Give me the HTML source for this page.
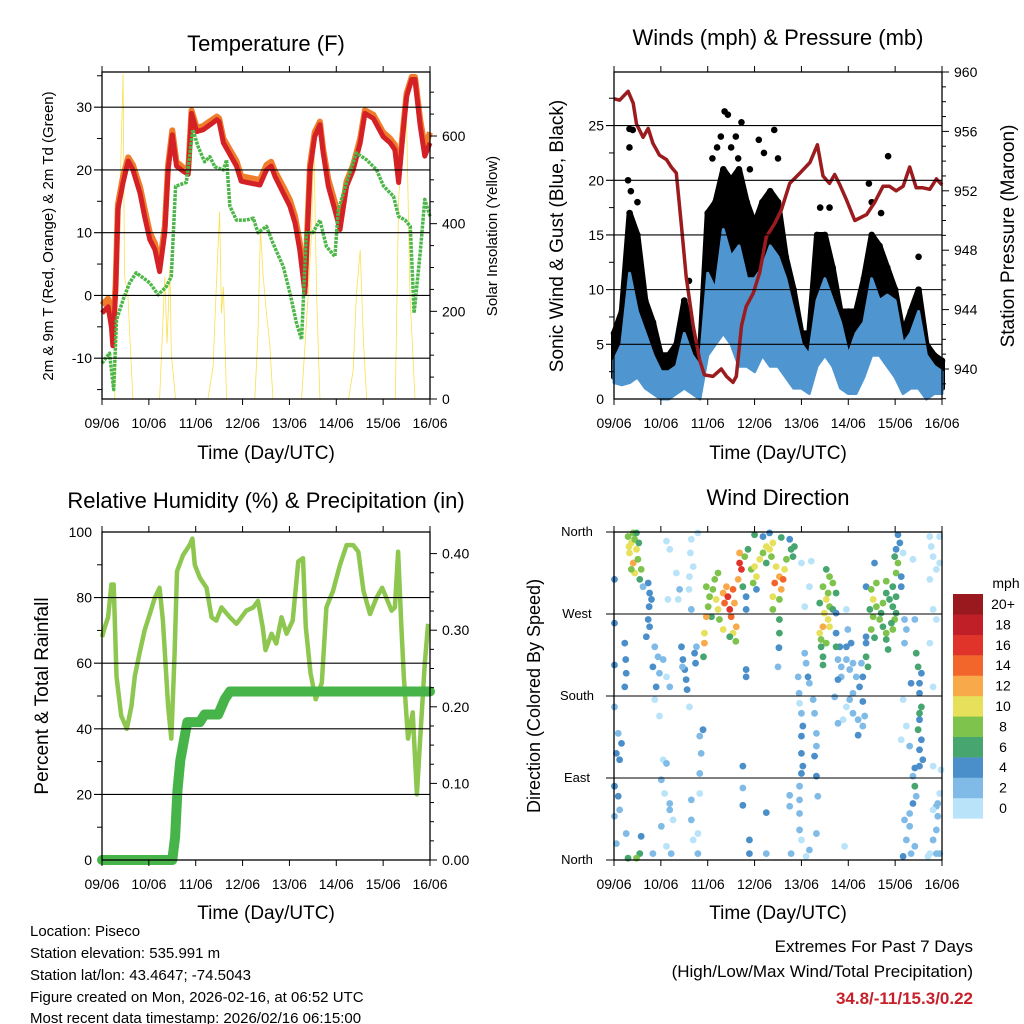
<!DOCTYPE html>
<html><head><meta charset="utf-8">
<style>
html,body{margin:0;padding:0;background:#fff;}
svg{display:block;font-family:"Liberation Sans",Arial,sans-serif;}
</style></head>
<body>
<svg id="fig" width="1024" height="1024" viewBox="0 0 1024 1024" xmlns="http://www.w3.org/2000/svg">
<rect x="0" y="0" width="1024" height="1024" fill="#fff"/>
<text x="266" y="51" font-size="22" text-anchor="middle">Temperature (F)</text>
<text x="778" y="45" font-size="22" text-anchor="middle">Winds (mph) &amp; Pressure (mb)</text>
<text x="266" y="508" font-size="22" text-anchor="middle">Relative Humidity (%) &amp; Precipitation (in)</text>
<text x="778" y="505" font-size="22" text-anchor="middle">Wind Direction</text>
<text transform="translate(53,236) rotate(-90)" font-size="15" text-anchor="middle">2m &amp; 9m T (Red, Orange) &amp; 2m Td (Green)</text>
<text transform="translate(497,236) rotate(-90)" font-size="15" text-anchor="middle">Solar Insolation (Yellow)</text>
<text transform="translate(563,236) rotate(-90)" font-size="19" text-anchor="middle">Sonic Wind &amp; Gust (Blue, Black)</text>
<text transform="translate(1014,236) rotate(-90)" font-size="19" text-anchor="middle">Station Pressure (Maroon)</text>
<text transform="translate(48,696) rotate(-90)" font-size="19" text-anchor="middle">Percent &amp; Total Rainfall</text>
<text transform="translate(540,696) rotate(-90)" font-size="18" text-anchor="middle">Direction (Colored By Speed)</text>
<text x="266" y="459" font-size="19" text-anchor="middle">Time (Day/UTC)</text>
<text x="778" y="459" font-size="19" text-anchor="middle">Time (Day/UTC)</text>
<text x="266" y="919" font-size="19" text-anchor="middle">Time (Day/UTC)</text>
<text x="778" y="919" font-size="19" text-anchor="middle">Time (Day/UTC)</text>
<g font-size="15">
<text x="30" y="936">Location: Piseco</text>
<text x="30" y="958">Station elevation: 535.991 m</text>
<text x="30" y="980">Station lat/lon: 43.4647; -74.5043</text>
<text x="30" y="1002">Figure created on Mon, 2026-02-16, at 06:52 UTC</text>
<text x="30" y="1023">Most recent data timestamp: 2026/02/16 06:15:00</text>
</g>
<text x="973" y="952" font-size="17" text-anchor="end">Extremes For Past 7 Days</text>
<text x="973" y="977" font-size="17" text-anchor="end">(High/Low/Max Wind/Total Precipitation)</text>
<text x="973" y="1004" font-size="17" font-weight="bold" fill="#c8202a" text-anchor="end">34.8/-11/15.3/0.22</text>
</svg>
<script>
// ---------- DATA ----------
const dayLabels=["09/06","10/06","11/06","12/06","13/06","14/06","15/06","16/06"];
const tempT=[0,0.13,0.2,0.23,0.29,0.34,0.45,0.56,0.66,0.81,0.91,1.02,1.13,1.23,1.34,1.41,1.5,1.59,1.73,1.84,1.91,2.02,2.16,2.31,2.45,2.5,2.59,2.87,2.97,3.1,3.37,3.51,3.61,3.69,3.87,4.01,4.12,4.22,4.33,4.44,4.54,4.65,4.72,4.83,4.97,5.08,5.22,5.36,5.51,5.61,5.79,6.0,6.15,6.25,6.33,6.43,6.5,6.61,6.68,6.79,6.89,7.0];
const tempRed=[-2.8,-1.8,-5,-8,0.4,13.7,18,21.4,20,16.3,12.6,8.9,7.3,3.8,10,20,25.6,20.6,19.8,19.3,29,26.1,26.4,27.2,28,27.7,24.3,20.6,18.2,18,17.6,20,20.6,19,16.3,14.2,11.5,7.3,0.4,20,25.3,27.2,22.7,17.4,13.6,10.5,17.4,20,24.3,29,28.2,25.3,24.3,23.2,18,26.4,31.7,34.4,34.4,27,22.2,24.3];
const tempOrange=[-1.5,-0.5,-3,-5,1.5,14.5,19,22,20.8,17.3,13.8,10,8.3,4.8,11,20.8,26.3,21.3,20.4,19.9,29.5,26.7,27,27.8,28.5,28.2,25,21.4,19,18.8,18.4,20.8,21.3,19.8,17.3,15.2,12.6,8.5,1.5,20.8,26,27.7,23.3,18.5,14.8,11.6,18.2,20.8,25,29.5,28.8,26,25,24,19,27,32.2,34.8,34.8,28,23.6,26];
const dewT=[0,0.16,0.25,0.31,0.45,0.59,0.73,0.88,1.02,1.2,1.37,1.48,1.57,1.8,1.94,2.05,2.19,2.3,2.41,2.59,2.66,2.73,2.87,3.08,3.23,3.33,3.51,3.65,3.87,4.01,4.15,4.26,4.36,4.5,4.65,4.79,4.97,5.04,5.22,5.43,5.65,5.86,6.01,6.22,6.33,6.47,6.58,6.66,6.79,6.89,7.0];
const dewVal=[-10.8,-9.2,-15,-3.9,-0.7,2,3.6,2.8,2,0.1,1.4,3,17.4,18,26.4,23.7,21.3,22.1,20.5,20,21.6,14.2,12,12,12.3,10,11,8.3,4.6,0.4,-4.4,-7,10,10,12,7.8,6.2,13.6,18,22.7,21.6,20,17.4,15.8,12.6,12,11,-2.8,6.8,15.3,12.6];
const solarT=[0,0.27,0.45,0.48,0.55,0.66,1.23,1.34,1.39,1.45,1.48,1.57,2.26,2.37,2.44,2.51,2.55,2.59,2.66,3.26,3.33,3.38,3.44,3.51,3.58,3.65,3.73,4.26,4.4,4.47,4.52,4.58,4.65,5.26,5.36,5.43,5.51,5.58,5.65,6.26,6.33,6.43,6.5,6.57,6.68,7.0];
const solarV=[0,0,742,280,240,0,0,279,127,302,104,0,0,74,256,427,195,256,0,0,150,385,280,195,127,0,0,0,240,378,598,240,0,0,66,240,340,127,0,0,454,613,636,240,0,0];
const windT=[0,0.167,0.333,0.5,0.667,0.833,1,1.167,1.333,1.5,1.667,1.833,2,2.167,2.333,2.5,2.667,2.833,3,3.167,3.333,3.5,3.667,3.833,4,4.167,4.333,4.5,4.667,4.833,5,5.167,5.333,5.5,5.667,5.833,6,6.167,6.333,6.5,6.667,6.833,7];
const windHi=[3.5,5,11.5,8,6,4,2.5,2.5,3,6,4,3,11.5,10,15.5,13,14,11,11,12,14,13,11,8,5,4,9,11,9,7,4,6,7,11,9,9.5,9,5,6,8,4,3,2.5];
const windLo=[1.5,1.3,1.5,2,1,0.5,0,0,0.5,1,0.5,0,4,5,6,5,3,3,2.5,4,3,3,2,1,1,0.5,3,4,3,1,0.5,0.5,2,4,4,3,2,0.5,1,1,0,0.5,0.5];
const gustHi=[6,8,17,15,9,7,4,4,5,9,6,4,17,18,21,20,21,18,16,18,19,18,13,10,6,6,15,15,12,8,8,8,11,15,14,12,10,6,8,10,5,4,3.5];
const gustLo=[2,3,4,5,3,2,1,1,1.5,2,2,1,6,8,9,8,6,5,5,6,6,6,4,3,2,2,5,6,5,3,2,2,3,6,6,5,4,2,2,3,1,1,1];
const gustOutT=[0.33,0.4,0.33,2.36,2.43,2.72,3.09,3.42,5.85,5.44,0.3,0.36,2.1,2.2,2.5,2.6,2.9,3.2,3.5,4.4,4.6,5.5,5.7,6.5,0.5,1.6,2.28,2.65];
const gustOutV=[24.7,24.6,23,26.3,26,25.3,23.7,24.6,22.2,19.7,20,19,22,23,23,24,21,22.5,22,17.5,17.5,18,17,13,18,10.8,24,22];
const presT=[0,0.12,0.3,0.41,0.48,0.62,0.73,0.83,0.97,1.12,1.22,1.33,1.44,1.54,1.69,1.83,1.93,2.11,2.29,2.4,2.54,2.61,2.72,2.82,2.97,3.11,3.25,3.43,3.57,3.75,3.97,4.18,4.34,4.46,4.6,4.71,4.82,4.96,5.14,5.39,5.56,5.74,5.88,6.02,6.17,6.31,6.45,6.59,6.74,6.88,7.0];
const presV=[958.2,958.1,958.7,957.9,956.5,955.6,956.2,955.2,954.4,954.1,953.6,953.2,949.6,946.2,942.9,940.6,939.6,939.5,940,939.5,939.1,939.5,942.9,944.2,945.1,946.5,948.9,949.8,950.7,952.5,953.2,953.9,955.1,953,952.5,953.1,952.4,951.4,950,950.4,951.2,952.3,952.3,952,952.3,953.6,952.2,952.2,952.1,952.8,952.4];
const rhT=[0,0.06,0.13,0.2,0.25,0.31,0.41,0.53,0.63,0.7,0.8,0.91,1.02,1.13,1.23,1.3,1.41,1.48,1.55,1.6,1.73,1.87,1.93,1.98,2.09,2.23,2.34,2.44,2.55,2.73,2.87,3.08,3.23,3.33,3.43,3.49,3.62,3.72,3.83,3.94,4.07,4.19,4.29,4.35,4.45,4.56,4.69,4.79,4.93,5.08,5.22,5.36,5.47,5.58,5.72,5.86,5.98,6.18,6.25,6.32,6.39,6.44,6.53,6.63,6.72,6.8,6.89,6.96];
const rhVal=[68,71,74,84,84,56,44,40,47,56,63,70,75,80,83,73,47,37,63,88,93,96,98,90,86,83,74,73,77,74,72,76,77,79,71,64,69,66,74,69,73,91,92,71,57,49,54,77,82,90,96,96,94,82,75,80,83,76,77,94,71,56,37,45,20,39,60,72,59];
const pcpT=[0,1.5,1.56,1.61,1.67,1.82,2.09,2.19,2.48,2.62,2.73,7.0];
const pcpV=[0,0,0.03,0.09,0.13,0.18,0.18,0.19,0.19,0.21,0.22,0.22];
const dirT=[0.30,0.37,0.44,0.48,0.33,0.41,0.51,0.44,0.55,0.58,0.41,0.48,0.32,0.53,0.37,0.73,0.76,0.75,0.73,0.76,0.69,0.80,0.62,0.87,0.94,0.83,0.97,1.05,1.12,1.19,0.90,0.87,0.97,1.05,1.12,1.01,1.08,1.19,1.26,1.01,1.12,1.22,1.44,1.47,1.51,1.54,1.56,1.46,1.72,1.74,1.76,1.65,1.63,1.61,1.60,1.65,1.79,1.69,1.33,1.40,1.37,1.15,1.12,1.19,1.61,1.83,1.90,1.86,1.83,1.83,1.65,1.69,1.79,1.79,1.65,0.01,0.01,0.01,0.23,0.25,0.26,0.23,0.01,0.09,0.16,0.05,0.12,0.01,0.09,0.12,0.01,0.26,0.05,0.58,0.30,0.55,0.48,0.83,1.19,
1.97,2.04,2.01,2.08,2.11,2.18,2.22,2.25,2.33,2.36,2.40,2.43,2.47,2.50,2.54,2.57,2.61,2.54,2.33,1.97,1.93,1.93,1.91,2.47,2.60,2.15,2.22,
2.68,2.72,2.65,2.68,2.79,2.86,2.75,2.82,2.82,2.93,3.00,3.04,3.11,3.18,3.25,3.32,3.39,3.36,3.46,3.43,3.53,3.61,3.57,3.64,3.68,3.78,3.82,3.85,3.75,3.57,3.32,3.00,3.18,3.25,3.53,3.39,3.53,3.53,3.50,3.52,3.39,2.97,3.04,
2.82,2.82,2.75,2.75,2.75,3.25,2.89,2.89,3.25,3.75,3.75,3.78,4.00,4.21,4.17,4.07,
3.93,3.95,3.96,4.00,4.03,4.00,4.00,4.03,4.00,3.96,3.96,3.96,3.96,4.00,4.07,4.10,4.14,4.17,4.25,4.28,4.32,4.32,4.28,4.32,4.35,4.32,4.17,4.10,4.92,
4.53,4.60,4.67,4.46,4.57,4.53,4.60,4.39,4.49,4.57,4.60,4.46,4.39,4.42,4.53,4.42,4.46,4.46,4.67,4.74,
4.74,4.82,4.78,4.85,4.96,5.03,5.10,5.17,5.24,5.31,5.28,5.10,5.03,4.96,5.10,5.21,5.31,5.21,4.89,4.78,4.85,4.78,4.71,4.96,4.99,5.06,4.74,5.38,5.38,5.42,5.31,5.35,4.96,4.74,
5.38,5.49,5.53,5.60,5.46,5.53,5.67,5.70,5.74,5.81,5.81,5.85,5.74,5.81,5.88,5.95,6.02,5.99,5.92,6.02,5.95,6.02,6.06,5.99,6.02,6.10,6.06,6.13,6.13,5.95,5.49,5.56,5.38,5.56,5.81,5.60,
6.20,6.24,6.20,6.42,6.45,6.49,6.56,6.52,6.52,6.56,6.52,6.52,6.49,6.56,6.52,6.59,6.52,6.42,6.38,6.42,6.45,6.38,6.31,6.20,6.31,6.24,6.17,6.34,6.42,6.74,6.81,6.88,6.91,6.88,6.81,6.95,6.91,6.74,6.77,6.81,6.88,6.95,6.74,6.81,6.88,6.74,6.95,6.38,6.17,6.81,6.98,6.81,6.34,6.17,6.24,6.13,6.31,6.95,6.70,6.88];
const dirDeg=[355,348,352,341,337,326,330,315,308,319,359,359,344,348,319,304,293,278,264,256,245,286,300,234,223,212,205,220,201,190,190,176,158,110,106,88,73,62,44,37,15,7,234,220,209,198,187,212,227,216,234,352,337,311,297,275,359,322,315,297,286,286,350,341,168,136,143,117,95,73,44,22,7,29,66,308,260,214,238,220,205,190,168,139,128,117,110,81,70,55,48,29,18,26,2,7,2,7,55,
300,289,278,267,297,286,275,264,293,282,300,289,275,267,297,282,256,249,253,267,249,238,223,245,240,308,315,
326,319,308,337,333,341,300,289,275,319,322,311,330,337,344,341,348,333,322,304,311,308,297,319,330,341,333,344,352,354,359,357,355,326,286,275,264,249,212,233,289,304,297,
209,201,103,79,60,52,22,7,7,71,59,7,326,328,300,278,
201,183,172,161,147,136,117,103,95,81,66,51,33,22,227,216,201,194,176,161,139,125,114,92,70,29,11,4,15,
319,311,304,300,293,286,278,282,271,264,256,256,249,242,238,234,223,214,275,293,
249,234,220,212,220,209,216,201,190,201,216,183,176,168,161,154,147,137,154,150,201,198,179,275,253,238,234,238,223,212,174,158,234,271,
300,297,286,278,275,267,264,271,256,249,242,231,282,293,286,278,271,264,260,289,300,315,326,333,341,348,357,311,300,253,253,244,245,326,306,304,
264,253,238,264,227,212,205,194,183,168,161,154,143,132,121,110,103,101,92,81,70,62,51,44,37,22,4,7,15,7,22,33,48,59,55,73,62,355,344,333,319,326,308,275,264,238,355,330,337,190,99,103,194,176,147,132,125,7,4,7];
const dirSpd=[8,10,8,10,10,12,8,10,6,8,8,6,10,6,8,4,4,4,4,4,4,4,2,2,2,4,2,2,0,2,4,0,0,0,2,2,0,2,0,2,0,2,4,4,4,4,4,2,4,4,2,0,0,0,0,2,0,0,0,2,0,0,0,0,0,2,4,2,2,0,2,0,2,0,2,4,4,4,4,4,4,4,2,2,4,4,4,4,4,2,2,2,2,4,6,6,8,2,2,
8,8,8,6,8,10,10,8,12,14,12,16,16,14,14,12,12,10,10,12,10,12,6,6,8,8,8,
16,16,12,12,8,6,6,4,4,8,10,10,10,8,10,10,10,8,10,14,12,14,12,10,8,6,6,6,4,6,4,6,4,6,8,8,6,6,2,4,10,8,4,
4,4,4,2,4,4,4,4,2,2,2,2,0,0,0,0,
2,2,0,2,4,4,4,4,4,2,2,2,2,0,2,2,4,2,2,2,2,2,4,4,2,2,2,0,0,
6,8,8,8,8,10,8,6,10,10,10,12,10,8,8,6,6,6,6,6,
4,4,2,2,2,2,2,2,4,4,2,2,2,0,2,2,2,4,0,2,2,4,2,0,2,4,6,4,6,6,4,2,4,4,
4,8,10,8,6,8,8,6,6,8,6,6,8,6,6,6,6,8,6,6,6,8,8,6,4,4,4,4,4,8,8,6,4,4,8,8,
2,2,2,2,6,6,4,4,4,6,6,4,6,4,4,4,4,4,2,6,2,4,2,2,2,2,4,2,2,0,2,2,2,2,0,0,2,0,0,0,0,0,0,0,0,0,0,0,0,0,0,0,4,0,0,0,2,2,0,2];
const speedColors=["#b9e3f9","#7fbbe6","#4a8fc9","#47a56f","#7dc34c","#e6e05a","#f8aa4a","#f2662b","#e0332a","#c01f28","#99191e"];
const speedLabels=["0","2","4","6","8","10","12","14","16","18","20+"];

// ---------- HELPERS ----------
const NS="http://www.w3.org/2000/svg";
const svg=document.getElementById('fig');
function mk(tag,attrs,parent){const e=document.createElementNS(NS,tag);for(const k in attrs)e.setAttribute(k,attrs[k]);(parent||svg).appendChild(e);return e;}
function scale(d0,d1,r0,r1){return v=>r0+(v-d0)/(d1-d0)*(r1-r0);}
function pts(xs,ys,fx,fy){return xs.map((t,i)=>fx(t).toFixed(1)+','+fy(ys[i]).toFixed(1)).join(' ');}

function frame(name,x0,x1,y0,y1){
  const g=mk('g',{});
  
  
  const fx=scale(0,7,x0,x1);
  for(let d=0;d<=7;d++){
    const x=fx(d);
    const tb=mk('line',{x1:x,x2:x,y1:y1,y2:y1+6,stroke:'#000','stroke-width':1},g);
    
    
    const tt=mk('line',{x1:x,x2:x,y1:y0,y2:y0-6,stroke:'#000','stroke-width':1},g);
    
    
    const lb=mk('text',{x:x,y:y1+29,'font-size':14,'text-anchor':'middle'},g);
    lb.textContent=dayLabels[d];
    
    
  }
  return {g,fx};
}
function hgrid(g,y,x0,x1){const l=mk('line',{x1:x0-8,x2:x1,y1:y,y2:y,stroke:'#000','stroke-width':1.1},g);
  
  }
function tick(g,x,y,len){const l=mk('line',{x1:x,x2:x+len,y1:y,y2:y,stroke:'#000','stroke-width':1},g);
  
  }
function label(g,x,y,txt,anchor,size){const t=mk('text',{x:x,y:y+5,'font-size':size||14,'text-anchor':anchor},g);t.textContent=txt;
  
  }
function box(g,x0,x1,y0,y1){const r=mk('rect',{x:x0,y:y0,width:x1-x0,height:y1-y0,fill:'none',stroke:'#000','stroke-width':1.3},g);
  
  }

// ---------- PANEL 1: TEMPERATURE ----------
(function(){
  const x0=102,x1=430,y0=72,y1=399;
  const {g,fx}=frame('temperature',x0,x1,y0,y1);
  const fy=scale(-16.5,35.6,y1,y0), fs=scale(0,746,y1,y0);
  [-10,0,10,20,30].forEach(v=>{hgrid(g,fy(v),x0,x1);label(g,x0-10,fy(v),String(v),'end');});
  [-15,-5,5,15,25,35].forEach(v=>tick(g,x0,fy(v),-5));
  for(let v=0;v<=740;v+=50){tick(g,x1,fs(v),v%200===0?7:4);}
  [0,200,400,600].forEach(v=>label(g,x1+12,fs(v),String(v),'start'));
  const sol=mk('polyline',{points:pts(solarT,solarV,fx,fs),fill:'none',stroke:'#f9e04f','stroke-width':0.8});
  
  
  const or=mk('polyline',{points:pts(tempT,tempOrange,fx,fy),fill:'none',stroke:'#f07d2b','stroke-width':6,'stroke-linejoin':'round'});
  
  
  const rd=mk('polyline',{points:pts(tempT,tempRed,fx,fy),fill:'none',stroke:'#d42126','stroke-width':5,'stroke-linejoin':'round'});
  
  
  const dw=mk('polyline',{points:pts(dewT,dewVal,fx,fy),fill:'none',stroke:'#4cb748','stroke-width':3.5,'stroke-linejoin':'round','stroke-dasharray':'3 1'});
  
  
  svg.appendChild(g);
  box(g,x0,x1,y0,y1);
})();

// ---------- PANEL 2: WINDS ----------
(function(){
  const x0=614,x1=942,y0=72,y1=399;
  const {g,fx}=frame('winds',x0,x1,y0,y1);
  const fy=scale(0,29.9,y1,y0), fp=scale(937.98,960,y1,y0);
  [5,10,15,20,25].forEach(v=>hgrid(g,fy(v),x0,x1));
  [0,5,10,15,20,25].forEach(v=>label(g,x0-10,fy(v),String(v),'end'));
  for(let v=2.5;v<30;v+=5)tick(g,x0,fy(v),-5);
  for(let v=938;v<=960;v+=1)tick(g,x1,fp(v),v%4===0?7:4);
  [940,944,948,952,956,960].forEach(v=>label(g,x1+12,fp(v),String(v),'start'));
  const gp=windT.map((t,i)=>fx(t).toFixed(1)+','+fy(gustHi[i]).toFixed(1)).concat(windT.map((t,i)=>fx(t).toFixed(1)+','+fy(gustLo[i]).toFixed(1)).reverse()).join(' ');
  const gb=mk('polygon',{points:gp,fill:'#000',stroke:'#000','stroke-width':6,'stroke-linejoin':'round'});
  
  
  windT.forEach((t,i)=>{
    const c=mk('circle',{cx:fx(t),cy:fy(gustHi[i]),r:3.3,fill:'#000'});
    
    
  });
  gustOutT.forEach((t,i)=>{
    const c=mk('circle',{cx:fx(t),cy:fy(gustOutV[i]),r:3.3,fill:'#000'});
    
    
  });
  const wp=windT.map((t,i)=>fx(t).toFixed(1)+','+fy(windHi[i]).toFixed(1)).concat(windT.map((t,i)=>fx(t).toFixed(1)+','+fy(windLo[i]).toFixed(1)).reverse()).join(' ');
  const wb=mk('polygon',{points:wp,fill:'#4f96d1',stroke:'#4f96d1','stroke-width':3,'stroke-linejoin':'round'});
  
  
  const pr=mk('polyline',{points:pts(presT,presV,fx,fp),fill:'none',stroke:'#9b1b1e','stroke-width':3.5,'stroke-linejoin':'round'});
  
  
  svg.appendChild(g);
  box(g,x0,x1,y0,y1);
})();

// ---------- PANEL 3: HUMIDITY ----------
(function(){
  const x0=102,x1=430,y0=532,y1=860;
  const {g,fx}=frame('humidity',x0,x1,y0,y1);
  const fy=scale(0,100,y1,y0), fr=scale(0,0.4,y1,y1-4*76.6);
  [20,40,60,80].forEach(v=>hgrid(g,fy(v),x0,x1));
  [0,20,40,60,80,100].forEach(v=>label(g,x0-10,fy(v),String(v),'end'));
  for(let v=10;v<100;v+=20)tick(g,x0,fy(v),-5);
  for(let v=0;v<=0.42;v+=0.025)tick(g,x1,fr(v),(Math.round(v*1000)%100===0)?7:4);
  [0,0.1,0.2,0.3,0.4].forEach(v=>label(g,x1+12,fr(v),v.toFixed(2),'start'));
  const rh=mk('polyline',{points:pts(rhT,rhVal,fx,fy),fill:'none',stroke:'#8dc74f','stroke-width':4.5,'stroke-linejoin':'round'});
  
  
  const pc=mk('polyline',{points:pts(pcpT,pcpV,fx,fr),fill:'none',stroke:'#47b449','stroke-width':10,'stroke-linejoin':'round','stroke-linecap':'round'});
  
  
  svg.appendChild(g);
  box(g,x0,x1,y0,y1);
})();

// ---------- PANEL 4: WIND DIRECTION ----------
(function(){
  const x0=614,x1=942,y0=532,y1=860;
  const {g,fx}=frame('direction',x0,x1,y0,y1);
  const fy=scale(0,360,y1,y0);
  const names=['North','East','South','West','North'];
  [0,90,180,270,360].forEach((v,i)=>{hgrid(g,fy(v),x0,x1);label(g,577,fy(v)-1,names[i],'middle',13);});
  dirT.forEach((t,i)=>{
    const k=Math.min(10,Math.floor(dirSpd[i]/2));
    const c=mk('circle',{cx:fx(t),cy:fy(dirDeg[i]),r:3.4,fill:speedColors[k]});
    
    
  });
  svg.appendChild(g);
  box(g,x0,x1,y0,y1);
  const cb=mk('g',{});
  
  
  const t=mk('text',{x:1006,y:588,'font-size':14,'text-anchor':'middle'},cb);
  t.textContent='mph';
  
  
  for(let i=0;i<11;i++){
    const yy=594+(10-i)*20.4;
    const r=mk('rect',{x:953,y:yy,width:30,height:20.6,fill:speedColors[i]},cb);
    
    
    const l=mk('text',{x:1003,y:yy+15,'font-size':14,'text-anchor':'middle'},cb);
    l.textContent=speedLabels[i];
    
    
  }
})();
</script>
</body></html>
